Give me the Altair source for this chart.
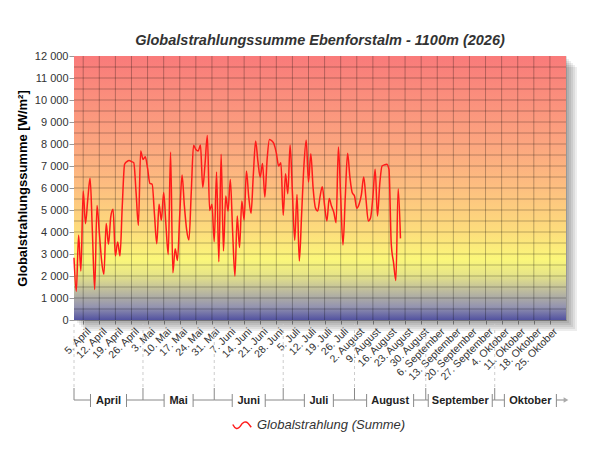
import altair as alt
import pandas as pd

# ---------------- data ----------------
radiation = [
    2830, 1300, 3850, 2230, 5860, 4380, 5500, 6440, 4000, 1390,
    5210, 4000, 2700, 2080, 4390, 3440, 4700, 5030, 2910, 3550,
    2910, 5200, 7080, 7200, 7250, 7200, 7150, 5800, 4300, 7680,
    7300, 7420, 6900, 6210, 6170, 4800, 3470, 5260, 4530, 5790,
    4300, 2980, 7640, 2150, 3240, 2710, 4800, 6590, 5200, 4100,
    3640, 5800, 7940, 7750, 7680, 7950, 6020, 7100, 8390, 4980,
    5260, 3560, 6730, 2650, 7530, 3140, 5640, 4950, 6390, 4000,
    2000, 4730, 3290, 5410, 4550, 6770, 5600, 4850, 6600, 8140,
    7200, 6500, 7110, 5590, 7300, 8210, 8150, 8000, 7600, 7000,
    7150, 4760, 6650, 5740, 7950, 5800, 3620, 5710, 2680, 4800,
    7000, 8170, 6270, 7560, 6000, 5100, 4950, 5600, 6060, 5200,
    4500, 5520, 5180, 4900, 4420, 7860, 5600, 3410, 5600, 7580,
    6500, 5790, 5640, 5080, 5260, 5700, 6500, 5500, 4500, 4650,
    5600, 6850, 4730, 6200, 7000, 7050, 7080, 6850, 3440, 2600,
    1800, 5970, 3710,
]
dates = pd.date_range("2026-04-01", periods=len(radiation), freq="D").strftime("%Y-%m-%d").tolist()
series_name = "Globalstrahlung (Summe)"

tick_dates = pd.date_range("2026-04-05", "2026-10-25", freq="7D").strftime("%Y-%m-%d").tolist()
y_grid = [500 * i for i in range(1, 24)]
y_ticks = [1000 * i for i in range(0, 13)]

months = ["April", "Mai", "Juni", "Juli", "August", "September", "Oktober"]
month_starts = ["2026-04-01", "2026-05-01", "2026-06-01", "2026-07-01",
                "2026-08-01", "2026-09-01", "2026-10-01"]
month_ends = ["2026-05-01", "2026-06-01", "2026-07-01", "2026-08-01",
              "2026-09-01", "2026-10-01", "2026-11-01"]
month_label_px = [26, 19, 23, 19, 37, 54, 42]   # estimated rendered label widths

# ---------------- layout ----------------
W, H = 492, 264
DOMAIN = ["2026-04-01", "2026-11-01"]
FONT = "Liberation Sans"
px_per_day = W / 214.0


def ts(v):
    t = pd.Timestamp(v)
    if t.tzinfo is None:
        t = t.tz_localize("UTC")
    return t


def ms(v):
    return int(ts(v).value // 10**6)


xscale = alt.Scale(type="utc", domain=[ms(DOMAIN[0]), ms(DOMAIN[1])], nice=False)
yscale = alt.Scale(domain=[0, 12000], nice=False, zero=True)

month_expr = ("utcdate(datum.value) + '. ' + ['Januar','Februar','März','April','Mai','Juni',"
              "'Juli','August','September','Oktober','November','Dezember'][utcmonth(datum.value)]")

x_axis = alt.Axis(values=[ms(d) for d in tick_dates], labelExpr=month_expr,
                  labelAngle=315, labelAlign="right", labelBaseline="top",
                  labelFont=FONT, labelFontSize=10.5, labelColor="#333",
                  labelPadding=2, labelOffset=2, tickSize=4, tickColor="#999",
                  domainColor="#aaa", grid=False, title="",
                  labelOverlap=False, labelFlush=False)
y_axis = alt.Axis(values=y_ticks,
                  labelExpr="replace(format(datum.value, ','), ',', ' ')",
                  labelFont=FONT, labelFontSize=11, labelColor="#333",
                  labelPadding=1, tickSize=5, tickColor="#999",
                  domainColor="#999", grid=False,
                  title="Globalstrahlungssumme [W/m²]",
                  titleFont=FONT, titleFontSize=13, titleFontWeight="bold",
                  titleColor="#000", titleX=-52, titleY=H / 2,
                  titleAngle=270, titleAlign="center", titleBaseline="middle")

df = pd.DataFrame({"date": dates, "value": radiation, "series": series_name})

# bracket pieces under the axis
seg_rows, cap_rows, lab_rows = [], [], []
for name, s, e, w in zip(months, month_starts, month_ends, month_label_px):
    s_t, e_t = ts(s), ts(e)
    mid = s_t + (e_t - s_t) / 2
    half = pd.Timedelta(days=(w / 2 + 5) / px_per_day)
    cl, cr = mid - half, mid + half
    seg_rows.append({"a": ms(s_t), "b": ms(cl)})
    seg_rows.append({"a": ms(cr), "b": ms(e_t)})
    cap_rows += [{"c": ms(cl)}, {"c": ms(cr)}]
    lab_rows.append({"m": ms(mid), "name": name})
seg_df = pd.DataFrame(seg_rows)
cap_df = pd.DataFrame(cap_rows)
lab_df = pd.DataFrame(lab_rows)
start_df = pd.DataFrame({"s": [ms(s) for s in month_starts]})
one = pd.DataFrame({"k": [0]})

# ---------------- layers ----------------
shadows = [
    alt.Chart(one).mark_rect(fill="#000", opacity=0.07).encode(
        x=alt.value(k), x2=alt.value(W + k), y=alt.value(k), y2=alt.value(H + k))
    for k in (3, 5, 7, 9, 11)
]

background = alt.Chart(one).mark_rect(
    color=alt.Gradient(
        gradient="linear", x1=0, y1=0, x2=0, y2=1,
        stops=[
            alt.GradientStop(offset=0.0, color="#f97a7a"),
            alt.GradientStop(offset=0.33, color="#fca57f"),
            alt.GradientStop(offset=0.5, color="#fdbf80"),
            alt.GradientStop(offset=0.66, color="#fddc7c"),
            alt.GradientStop(offset=0.77, color="#fbf77a"),
            alt.GradientStop(offset=0.83, color="#e6e488"),
            alt.GradientStop(offset=0.89, color="#bdbb9e"),
            alt.GradientStop(offset=0.95, color="#9494b0"),
            alt.GradientStop(offset=1.0, color="#5252a0"),
        ],
    )
).encode(x=alt.value(0), x2=alt.value(W), y=alt.value(0), y2=alt.value(H))

hgrid = alt.Chart(pd.DataFrame({"v": y_grid})).mark_rule(
    color="#000", opacity=0.27, strokeWidth=1
).encode(y=alt.Y("v:Q", scale=yscale, axis=y_axis), x=alt.value(0), x2=alt.value(W))

vgrid = alt.Chart(pd.DataFrame({"d": tick_dates})).mark_rule(
    color="#000", opacity=0.27, strokeWidth=1
).encode(x=alt.X("d:T", scale=xscale, axis=x_axis), y=alt.value(0), y2=alt.value(H))

line = alt.Chart(df).mark_line(strokeWidth=1.5, interpolate="monotone").encode(
    x=alt.X("date:T", scale=xscale, axis=x_axis),
    y=alt.Y("value:Q", scale=yscale, axis=y_axis),
    color=alt.Color("series:N",
                    scale=alt.Scale(domain=[series_name], range=["#ff1a1a"]),
                    legend=alt.Legend(
                        orient="none", legendX=158, legendY=359, title=None,
                        symbolType="M-1,-0.05 C-0.75,0.45 -0.45,0.5 -0.2,0.15 C0.1,-0.35 0.4,-0.45 0.65,-0.2 L1,0.25",
                        symbolSize=340, symbolStrokeWidth=1.5, symbolStrokeColor="#ff1a1a",
                        symbolFillColor="transparent",
                        labelFont=FONT, labelFontSize=13, labelFontStyle="italic",
                        labelColor="#333", labelOffset=5, padding=0)),
)

dashes = alt.Chart(start_df).mark_rule(color="#cccccc", strokeDash=[3, 3], strokeWidth=1).encode(
    x=alt.X("s:T", scale=xscale, axis=x_axis), y=alt.value(H + 4), y2=alt.value(H + 68))

bounds = alt.Chart(start_df).mark_rule(color="#888", strokeWidth=1).encode(
    x=alt.X("s:T", scale=xscale, axis=x_axis), y=alt.value(H + 68), y2=alt.value(H + 80))

segs = alt.Chart(seg_df).mark_rule(color="#888", strokeWidth=1).encode(
    x=alt.X("a:T", scale=xscale, axis=x_axis), x2="b:T", y=alt.value(H + 80))

caps = alt.Chart(cap_df).mark_rule(color="#888", strokeWidth=1).encode(
    x=alt.X("c:T", scale=xscale, axis=x_axis), y=alt.value(H + 74), y2=alt.value(H + 87))

labels = alt.Chart(lab_df).mark_text(
    font=FONT, fontSize=11, fontWeight="bold", color="#222", baseline="middle", align="center"
).encode(x=alt.X("m:T", scale=xscale, axis=x_axis), y=alt.value(H + 81), text="name:N")

arrow = alt.Chart(pd.DataFrame({"e": [ms(DOMAIN[1])]})).mark_point(
    shape="triangle-right", filled=True, color="#aaa", size=30, opacity=1
).encode(x=alt.X("e:T", scale=xscale, axis=x_axis), y=alt.value(H + 80))

chart = alt.layer(
    *shadows, background, hgrid, vgrid, line, dashes, bounds, segs, caps, labels, arrow
).properties(
    width=W, height=H,
    autosize=alt.AutoSizeParams(type="none"),
    padding={"left": 66, "top": 48, "right": 26, "bottom": 122},
    title=alt.TitleParams(
        "Globalstrahlungssumme Ebenforstalm - 1100m (2026)",
        font=FONT, fontSize=14.5, fontWeight="bold", fontStyle="italic",
        color="#333", anchor="middle", offset=2),
).configure_view(stroke=None).configure(background="white")

chart.save("out.html", embed_options={"renderer": "svg", "actions": False})
